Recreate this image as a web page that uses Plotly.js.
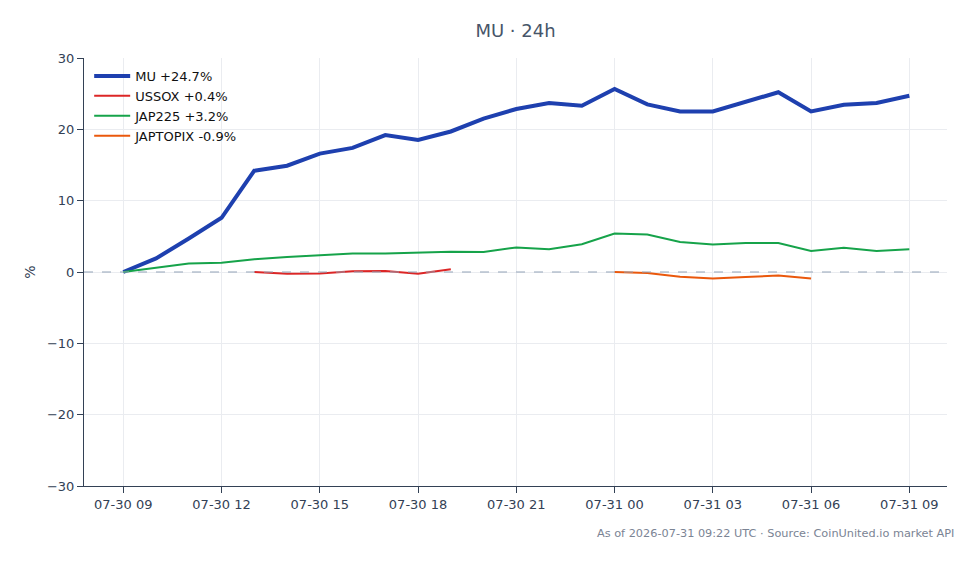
<!DOCTYPE html>
<html>
<head>
<meta charset="utf-8">
<script src="https://cdn.plot.ly/plotly-3.0.1.min.js"></script>
<style>
  html, body { margin: 0; padding: 0; background: #ffffff; }
  #chart { width: 979px; height: 564px; }
</style>
</head>
<body>
<div id="chart"></div>
<script>
// Hourly timestamps for the 24h window
const hours = [
  "2026-07-30 09:00", "2026-07-30 10:00", "2026-07-30 11:00", "2026-07-30 12:00",
  "2026-07-30 13:00", "2026-07-30 14:00", "2026-07-30 15:00", "2026-07-30 16:00",
  "2026-07-30 17:00", "2026-07-30 18:00", "2026-07-30 19:00", "2026-07-30 20:00",
  "2026-07-30 21:00", "2026-07-30 22:00", "2026-07-30 23:00", "2026-07-31 00:00",
  "2026-07-31 01:00", "2026-07-31 02:00", "2026-07-31 03:00", "2026-07-31 04:00",
  "2026-07-31 05:00", "2026-07-31 06:00", "2026-07-31 07:00", "2026-07-31 08:00",
  "2026-07-31 09:00"
];

// Cumulative % change, each series relative to its own first print
const muPct = [0, 1.9, 4.7, 7.6, 14.2, 14.9, 16.6, 17.4, 19.2, 18.5, 19.7, 21.5,
  22.85, 23.7, 23.3, 25.65, 23.5, 22.5, 22.5, 23.9, 25.2, 22.5, 23.45, 23.7, 24.7];

const jap225Pct = [0, 0.6, 1.2, 1.3, 1.8, 2.1, 2.4, 2.6, 2.6, 2.7, 2.85, 2.8,
  3.45, 3.2, 3.9, 5.4, 5.25, 4.2, 3.85, 4.05, 4.05, 2.95, 3.4, 2.95, 3.2];

// US session only (13:00 – 19:00)
const ussoxHours = hours.slice(4, 11);
const ussoxPct = [0, -0.25, -0.2, 0.1, 0.15, -0.25, 0.4];

// Tokyo session only (00:00 – 06:00)
const japtopixHours = hours.slice(15, 22);
const japtopixPct = [0, -0.15, -0.65, -0.9, -0.7, -0.5, -0.9];

const seriesNames = ["MU", "USSOX", "JAP225", "JAPTOPIX"];

function withChange(name, values) {
  const last = values[values.length - 1];
  const sign = last >= 0 ? "+" : "";
  return name + " " + sign + last.toFixed(1) + "%";
}

const FONT = "DejaVu Sans, Verdana, sans-serif";

const traces = [
  {
    x: hours, y: muPct, type: "scatter", mode: "lines",
    name: withChange(seriesNames[0], muPct),
    line: { color: "#1e40af", width: 4 }
  },
  {
    x: ussoxHours, y: ussoxPct, type: "scatter", mode: "lines",
    name: withChange(seriesNames[1], ussoxPct),
    line: { color: "#dc2626", width: 2 }
  },
  {
    x: hours, y: jap225Pct, type: "scatter", mode: "lines",
    name: withChange(seriesNames[2], jap225Pct),
    line: { color: "#16a34a", width: 2 }
  },
  {
    x: japtopixHours, y: japtopixPct, type: "scatter", mode: "lines",
    name: withChange(seriesNames[3], japtopixPct),
    line: { color: "#ea580c", width: 2 }
  }
];

const layout = {
  width: 979,
  height: 564,
  margin: { l: 84, r: 32, t: 58, b: 78 },
  paper_bgcolor: "#ffffff",
  plot_bgcolor: "#ffffff",
  font: { family: FONT, size: 13, color: "#334155" },
  title: {
    text: "MU · 24h",
    x: 0.5, xref: "paper", xanchor: "center",
    y: 0.945, yanchor: "middle",
    font: { family: FONT, size: 18, color: "#475569" }
  },
  xaxis: {
    type: "date",
    range: ["2026-07-30 07:48", "2026-07-31 10:09"],
    tickformat: "%m-%d %H",
    dtick: 3 * 3600 * 1000,
    tick0: "2026-07-30 09:00",
    showgrid: true, gridcolor: "#eaecf0", gridwidth: 1,
    showline: true, linecolor: "#334155", linewidth: 1,
    ticks: "outside", ticklen: 6, tickcolor: "#334155",
    tickfont: { family: FONT, size: 13, color: "#334155" },
    zeroline: false
  },
  yaxis: {
    range: [-30, 30],
    dtick: 10,
    title: { text: "%", font: { family: FONT, size: 14, color: "#334155" }, standoff: 8 },
    showgrid: true, gridcolor: "#eaecf0", gridwidth: 1,
    showline: true, linecolor: "#334155", linewidth: 1,
    ticks: "outside", ticklen: 6, tickcolor: "#334155",
    tickfont: { family: FONT, size: 13, color: "#334155" },
    zeroline: false
  },
  shapes: [
    {
      type: "line", xref: "paper", yref: "y",
      x0: 0, x1: 1, y0: 0, y1: 0,
      line: { color: "#94a3b8", width: 1.2, dash: "dash" }
    }
  ],
  legend: {
    x: 0.006, y: 0.993, xanchor: "left", yanchor: "top",
    bgcolor: "rgba(255,255,255,0)",
    font: { family: FONT, size: 13, color: "#111111" },
    itemwidth: 36,
    tracegroupgap: 0
  },
  annotations: [
    {
      text: "As of 2026-07-31 09:22 UTC · Source: CoinUnited.io market API",
      xref: "paper", yref: "paper",
      x: 1, y: -0.11, xanchor: "right", yanchor: "middle",
      xshift: 9,
      showarrow: false,
      font: { family: FONT, size: 11.3, color: "#7b8494" }
    }
  ],
  showlegend: true,
  hovermode: false
};

Plotly.newPlot("chart", traces, layout, { displayModeBar: false, staticPlot: true });
</script>
</body>
</html>
